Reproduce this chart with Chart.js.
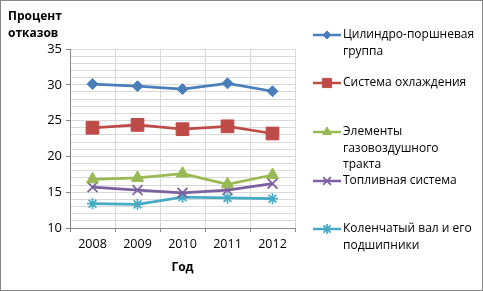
<!DOCTYPE html>
<html>
<head>
<meta charset="utf-8">
<script src="https://cdn.jsdelivr.net/npm/chart.js@4.4.1/dist/chart.umd.min.js"></script>
<style>
  html, body { margin: 0; padding: 0; background: #fff; }
</style>
</head>
<body>
<canvas id="chart" width="483" height="291"></canvas>
<script>
const years = ['2008', '2009', '2010', '2011', '2012'];

// legend labels, already split into lines like the original
const seriesNames = [
  ['Цилиндро-поршневая', 'группа'],
  ['Система охлаждения'],
  ['Элементы', 'газовоздушного', 'тракта'],
  ['Топливная система'],
  ['Коленчатый вал и его', 'подшипники']
];

const pistonGroup = [30.1, 29.8, 29.4, 30.2, 29.1];
const cooling     = [24.0, 24.4, 23.8, 24.2, 23.2];
const airPath     = [16.8, 17.0, 17.6, 16.1, 17.4];
const fuelSystem  = [15.7, 15.3, 14.9, 15.3, 16.2];
const crankshaft  = [13.4, 13.3, 14.3, 14.2, 14.1];

const yMin = 10;
const yMax = 35;
const yMajor = 5;

const FONT = 'Open Sans';
const gridColor = '#d9d9d9';
const axisColor = '#868686';

function series(i, data, color, style, radius, legendRadius) {
  return {
    label: seriesNames[i].join(' '),
    data: data,
    borderColor: color,
    backgroundColor: color,
    borderWidth: 2.75,
    pointStyle: style,
    pointRadius: radius,
    pointBorderWidth: style === 'crossRot' || style === 'star' ? 1.75 : 1,
    legendRadius: legendRadius,
    tension: 0
  };
}

// legend rows: y of first text line
const legendRows = [35, 83, 132, 181, 229];

const extras = {
  id: 'extras',
  beforeDraw(chart) {
    const c = chart.ctx;
    c.save();
    c.fillStyle = '#fff';
    c.fillRect(0, 0, chart.width, chart.height);
    c.restore();
  },
  afterDraw(chart) {
    const c = chart.ctx;
    c.save();
    // outer frame
    c.strokeStyle = axisColor;
    c.lineWidth = 1;
    c.strokeRect(0.5, 0.5, chart.width - 1, chart.height - 1);

    // axis titles
    c.fillStyle = '#000';
    c.font = 'bold 12px "' + FONT + '"';
    c.textBaseline = 'middle';
    c.textAlign = 'left';
    c.fillText('Процент', 8, 17);
    c.fillText('отказов', 8, 34);
    c.textAlign = 'center';
    c.fillText('Год', (chart.chartArea.left + chart.chartArea.right) / 2, 268);

    // legend
    c.font = '12px "' + FONT + '"';
    c.textAlign = 'left';
    chart.data.datasets.forEach((ds, i) => {
      const y = legendRows[i];
      c.strokeStyle = ds.borderColor;
      c.lineWidth = 2.5;
      c.beginPath();
      c.moveTo(313, y);
      c.lineTo(341, y);
      c.stroke();
      c.fillStyle = ds.backgroundColor;
      c.lineWidth = ds.pointBorderWidth;
      Chart.helpers.drawPoint(c, {
        pointStyle: ds.pointStyle,
        radius: ds.legendRadius,
        borderWidth: ds.pointBorderWidth,
        rotation: 0
      }, 327, y);
      c.fillStyle = '#000';
      seriesNames[i].forEach((line, k) => {
        c.fillText(line, 343, y + k * 16.5);
      });
    });
    c.restore();
  }
};

new Chart(document.getElementById('chart'), {
  type: 'line',
  data: {
    labels: years,
    datasets: [
      series(0, pistonGroup, '#4a7ebb', 'rectRot', 5.5, 4),
      series(1, cooling, '#be4b48', 'rect', 9, 6.5),
      series(2, airPath, '#98b954', 'triangle', 7, 5),
      series(3, fuelSystem, '#7d60a0', 'crossRot', 7, 5.5),
      series(4, crankshaft, '#46aac5', 'star', 5.5, 5)
    ]
  },
  options: {
    responsive: false,
    animation: false,
    layout: { padding: { top: 49, left: 0, right: 188, bottom: 0 } },
    plugins: {
      legend: { display: false },
      tooltip: { enabled: false }
    },
    scales: {
      x: {
        offset: true,
        grid: { color: gridColor, offset: true, tickLength: 4, tickColor: axisColor },
        border: { color: axisColor },
        ticks: { color: '#000', font: { family: FONT, size: 12.5 }, padding: 5 },
        afterFit: s => { s.height = 63; }
      },
      y: {
        min: yMin,
        max: yMax,
        grid: {
          color: gridColor,
          tickLength: 4,
          tickColor: ctx => (ctx.tick && ctx.tick.value % yMajor === 0) ? axisColor : 'rgba(0,0,0,0)'
        },
        border: { color: axisColor },
        ticks: {
          stepSize: 1,
          autoSkip: false,
          color: '#000',
          font: { family: FONT, size: 13 },
          padding: 4,
          callback: v => (v % yMajor === 0 ? v : '')
        },
        afterFit: s => { s.width = 70; }
      }
    }
  },
  plugins: [extras]
});
</script>
</body>
</html>
